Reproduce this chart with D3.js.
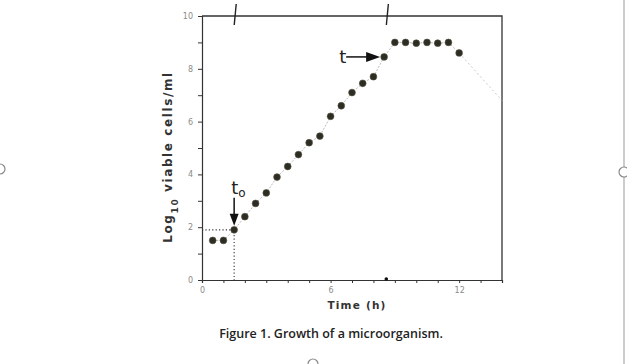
<!DOCTYPE html>
<html>
<head>
<meta charset="utf-8">
<script src="https://cdn.jsdelivr.net/npm/d3@7"></script>
<style>
  body { margin: 0; background: #fff; }
  svg { display: block; }
</style>
</head>
<body>
<div id="chart"></div>
<script>
// hours and log10 viable cells/ml
const hours = [0.5, 1, 1.5, 2, 2.5, 3, 3.5, 4, 4.5, 5, 5.5, 6, 6.5, 7, 7.5, 8, 8.5, 9, 9.5, 10, 10.5, 11, 11.5, 12];
const logCells = [1.5, 1.5, 1.9, 2.4, 2.9, 3.3, 3.9, 4.3, 4.75, 5.2, 5.45, 6.2, 6.6, 7.1, 7.45, 7.7, 8.45, 9.0, 9.0, 8.97, 9.0, 8.97, 9.0, 8.6];
// curve keeps falling past the last point to the frame edge
const tailHours = [12, 14];
const tailCells = [8.6, 6.8];
const xTickLabels = [0, 6, 12];
const yTickLabels = [0, 2, 4, 6, 8, 10];
const t0 = 1.5, t0Cells = 1.9;
const tEnd = 8.5, tEndCells = 8.45;
const topMarks = [1.55, 8.65];

const width = 627, height = 364;
const margin = { top: 16, right: 125, bottom: 84, left: 202 };

const svg = d3.select("#chart").append("svg")
    .attr("width", width)
    .attr("height", height);

const x = d3.scaleLinear().domain([0, 14]).range([margin.left, width - margin.right]);
const y = d3.scaleLinear().domain([0, 10]).range([height - margin.bottom, margin.top]);

const axisColor = "#333";
const labelColor = "#8a8a8a";

// x axis
const xAxis = svg.append("g")
    .attr("transform", `translate(0,${y(0)})`)
    .call(d3.axisBottom(x)
        .tickValues(d3.range(0, 15, 1))
        .tickSize(3)
        .tickPadding(4)
        .tickFormat(d => xTickLabels.includes(d) ? d : ""));
xAxis.select(".domain").attr("stroke", axisColor).attr("stroke-width", 1.2);
xAxis.selectAll(".tick line").attr("stroke", axisColor);
xAxis.selectAll(".tick text")
    .attr("fill", labelColor)
    .style("font-family", "DejaVu Sans")
    .style("font-size", "8px");

// y axis
const yAxis = svg.append("g")
    .attr("transform", `translate(${x(0)},0)`)
    .call(d3.axisLeft(y)
        .tickValues(d3.range(0, 11, 1))
        .tickSize(4)
        .tickPadding(5)
        .tickFormat(d => yTickLabels.includes(d) ? d : ""));
yAxis.select(".domain").attr("stroke", axisColor).attr("stroke-width", 1.2);
yAxis.selectAll(".tick line").attr("stroke", axisColor);
yAxis.selectAll(".tick text")
    .attr("fill", labelColor)
    .style("font-family", "DejaVu Sans")
    .style("font-size", "8px");

// top and right frame
svg.append("path")
    .attr("d", `M${x(0)},${y(10)}H${x(14)}V${y(0)}`)
    .attr("fill", "none")
    .attr("stroke", axisColor)
    .attr("stroke-width", 1.3);

// hand drawn marks on top border
svg.selectAll(".topmark")
    .data(topMarks)
    .enter()
    .append("line")
    .attr("class", "topmark")
    .attr("x1", d => x(d) + 1)
    .attr("y1", y(10) - 12)
    .attr("x2", d => x(d) - 1)
    .attr("y2", y(10) + 9)
    .attr("stroke", "#222")
    .attr("stroke-width", 1.4);

// growth curve
const line = d3.line().x(d => x(d[0])).y(d => y(d[1]));
svg.append("path")
    .datum(hours.map((h, i) => [h, logCells[i]]))
    .attr("d", line)
    .attr("fill", "none")
    .attr("stroke", "#aaa")
    .attr("stroke-width", 0.8)
    .attr("stroke-dasharray", "2,1.5");
svg.append("path")
    .datum(tailHours.map((h, i) => [h, tailCells[i]]))
    .attr("d", line)
    .attr("fill", "none")
    .attr("stroke", "#bbb")
    .attr("stroke-width", 0.8)
    .attr("stroke-dasharray", "2,2.5");

// dotted guides to t0
svg.append("path")
    .attr("d", `M${x(0)},${y(t0Cells)}H${x(t0)}V${y(0)}`)
    .attr("fill", "none")
    .attr("stroke", "#333")
    .attr("stroke-width", 1.1)
    .attr("stroke-dasharray", "1.2,2.2");

// points
svg.selectAll(".pt")
    .data(hours)
    .enter()
    .append("circle")
    .attr("class", "pt")
    .attr("cx", d => x(d))
    .attr("cy", (d, i) => y(logCells[i]))
    .attr("r", 3.4)
    .attr("fill", "#2e2d24")
    .attr("stroke", "#55533f")
    .attr("stroke-width", 0.6);

// small mark on x axis at t
svg.append("circle")
    .attr("cx", x(8.6))
    .attr("cy", y(0) - 1)
    .attr("r", 1.8)
    .attr("fill", "#111");

// t0 arrow (pointing down)
const ax0 = x(t0);
const ay0 = y(t0Cells);
svg.append("line")
    .attr("x1", ax0).attr("y1", ay0 - 32)
    .attr("x2", ax0).attr("y2", ay0 - 12)
    .attr("stroke", "#111").attr("stroke-width", 1.5);
svg.append("path")
    .attr("d", `M${ax0 - 4.5},${ay0 - 16}L${ax0 + 4.5},${ay0 - 16}L${ax0},${ay0 - 4}Z`)
    .attr("fill", "#111");
const t0Label = svg.append("text")
    .attr("x", ax0 - 3)
    .attr("y", ay0 - 36)
    .style("font-family", "DejaVu Sans")
    .style("font-size", "18px")
    .attr("fill", "#222");
t0Label.append("tspan").text("t");
t0Label.append("tspan").attr("dy", 3).style("font-size", "12px").text("o");

// t arrow (pointing right)
const ax1 = x(tEnd);
const ay1 = y(tEndCells);
svg.append("line")
    .attr("x1", ax1 - 38).attr("y1", ay1)
    .attr("x2", ax1 - 14).attr("y2", ay1)
    .attr("stroke", "#111").attr("stroke-width", 1.5);
svg.append("path")
    .attr("d", `M${ax1 - 18},${ay1 - 5}L${ax1 - 18},${ay1 + 5}L${ax1 - 4},${ay1}Z`)
    .attr("fill", "#111");
svg.append("text")
    .attr("x", ax1 - 45)
    .attr("y", ay1 + 6)
    .style("font-family", "DejaVu Sans")
    .style("font-size", "18px")
    .attr("fill", "#222")
    .text("t");

// axis titles
const yTitle = svg.append("text")
    .attr("transform", `translate(172,157) rotate(-90)`)
    .attr("text-anchor", "middle")
    .style("font-family", "DejaVu Sans")
    .style("font-size", "12px")
    .style("font-weight", "bold")
    .style("letter-spacing", "1.6px")
    .attr("fill", "#333");
yTitle.append("tspan").text("Log");
yTitle.append("tspan").attr("dy", 6).style("font-size", "9px").text("10");
yTitle.append("tspan").attr("dy", -6).text(" viable cells/ml");

svg.append("text")
    .attr("x", 357)
    .attr("y", 309)
    .attr("text-anchor", "middle")
    .style("font-family", "DejaVu Sans")
    .style("font-size", "10.5px")
    .style("font-weight", "bold")
    .style("letter-spacing", "1.2px")
    .attr("fill", "#333")
    .text("Time (h)");

svg.append("text")
    .attr("x", 331)
    .attr("y", 338)
    .attr("text-anchor", "middle")
    .style("font-family", "Open Sans")
    .style("font-size", "12.5px")
    .style("font-weight", "600")
    .attr("fill", "#222")
    .text("Figure 1. Growth of a microorganism.");

// page edge and selection handles
svg.append("line")
    .attr("x1", 624).attr("y1", 0)
    .attr("x2", 624).attr("y2", height)
    .attr("stroke", "#999").attr("stroke-width", 1);
const handles = [[0, 169], [624, 172], [313, 364]];
svg.selectAll(".handle")
    .data(handles)
    .enter()
    .append("circle")
    .attr("class", "handle")
    .attr("cx", d => d[0])
    .attr("cy", d => d[1])
    .attr("r", 5)
    .attr("fill", "#fff")
    .attr("stroke", "#888")
    .attr("stroke-width", 1.2);
</script>
</body>
</html>
